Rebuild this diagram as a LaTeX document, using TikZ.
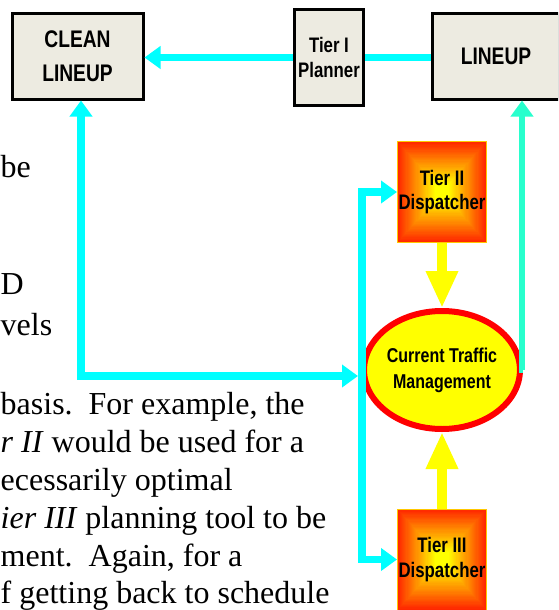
\documentclass[tikz,border=0pt]{standalone}
\usepackage{fontspec}
\setmainfont{Liberation Serif}
\newfontfamily\diafont[FakeStretch=0.8]{Liberation Sans}
\usetikzlibrary{arrows.meta,shapes.geometric,calc}
\definecolor{boxfill}{RGB}{237,235,225}
\definecolor{cyanc}{RGB}{0,255,255}
\definecolor{tealc}{RGB}{40,255,205}
\definecolor{gred}{RGB}{255,40,0}
\definecolor{gyel}{RGB}{255,255,0}
\definecolor{gedge}{RGB}{255,200,0}
\begin{document}
\begin{tikzpicture}[x=1pt,y=-1pt,
  graybox/.style={draw=black, line width=3pt, fill=boxfill, inner sep=0pt, align=center,
    font=\diafont\bfseries\fontsize{24}{34}\selectfont},
  smallbox/.style={graybox, font=\diafont\bfseries\fontsize{21}{25}\selectfont},
  gradbox/.style={draw=gedge, line width=1pt, inner sep=0pt, align=center,
    minimum width=89pt, minimum height=101pt,
    font=\diafont\bfseries\fontsize{21}{24.5}\selectfont,
    path picture={
      \foreach \i in {0,...,40}{
        \pgfmathsetmacro\gf{\i/80}
        \pgfmathtruncatemacro\gm{min(100,\i*100/34)}
        \fill[gyel!\gm!gred]
          ($(path picture bounding box.south west)!\gf!(path picture bounding box.north east)$)
          rectangle
          ($(path picture bounding box.north east)!\gf!(path picture bounding box.south west)$);
      }}},
  bodytext/.style={anchor=base west, inner sep=0pt, font=\fontsize{32}{38}\selectfont},
  cyanline/.style={draw=cyanc, line width=7.5pt},
  tealline/.style={draw=tealc, line width=6pt},
  ctip/.tip={Triangle[length=16pt,width=22pt]},
  yelarrow/.style={draw=gyel, line width=10pt, -{Triangle[length=37pt,width=30pt]}}
]
\useasboundingbox (0,0) rectangle (558,610);
\begin{scope}
\clip (0,0) rectangle (558,610);

% background document text
\node[bodytext] (t1) at (0.5,177) {be};
\node[bodytext] (t2) at (0.5,294) {D};
\node[bodytext] (t3) at (0.5,335) {vels};
\node[bodytext] (t4) at (0.5,414) {basis.\ \ For example, the};
\node[bodytext] (t5) at (0.5,452) {\textit{r II} would be used for a};
\node[bodytext] (t6) at (0.5,490) {ecessarily optimal};
\node[bodytext] (t7) at (0.5,528) {\textit{ier III} planning tool to be};
\node[bodytext] (t8) at (0.5,566) {ment.\ \ Again, for a};
\node[bodytext] (t9) at (0.5,603) {f getting back to schedule};

% boxes
\node[graybox, minimum width=131pt, minimum height=85pt] (clean) at (77.5,56.5) {CLEAN\\LINEUP};
\node[smallbox, minimum width=69pt, minimum height=96pt] (tier1) at (329,57.5) {Tier I\\Planner};
\node[graybox, minimum width=127pt, minimum height=85pt] (lineup) at (496,56.5) {LINEUP};
\node[gradbox] (tier2) at (442,192) {Tier II\\Dispatcher};
\node[gradbox] (tier3) at (442,559.5) {Tier III\\Dispatcher};
\node[ellipse, draw=red, fill=gyel, line width=6pt, minimum width=132pt, minimum height=118pt,
  inner sep=0pt, align=center, font=\diafont\bfseries\fontsize{20}{26}\selectfont]
  (cur) at (442,370) {Current Traffic\\Management};

\coordinate (loopend) at (358,376);
\coordinate (busmid) at (362,376);

% connectors
\draw[cyanline, -ctip] (tier1.west) -- (tier1.west -| clean.east);
\draw[cyanline] (tier1.east) -- (tier1.east -| lineup.west);
\draw[cyanline, ctip-ctip] ([xshift=3.5pt]clean.south) |- (loopend);
\draw[cyanline, ctip-ctip] (tier2.west) -| (busmid) |- (tier3.west);
\draw[tealline, -ctip] (cur.east) -| ([xshift=26pt]lineup.south);
\draw[yelarrow] (tier2.south) -- (cur.north);
\draw[yelarrow] (tier3.north) -- (cur.south);
\end{scope}
\end{tikzpicture}
\end{document}
